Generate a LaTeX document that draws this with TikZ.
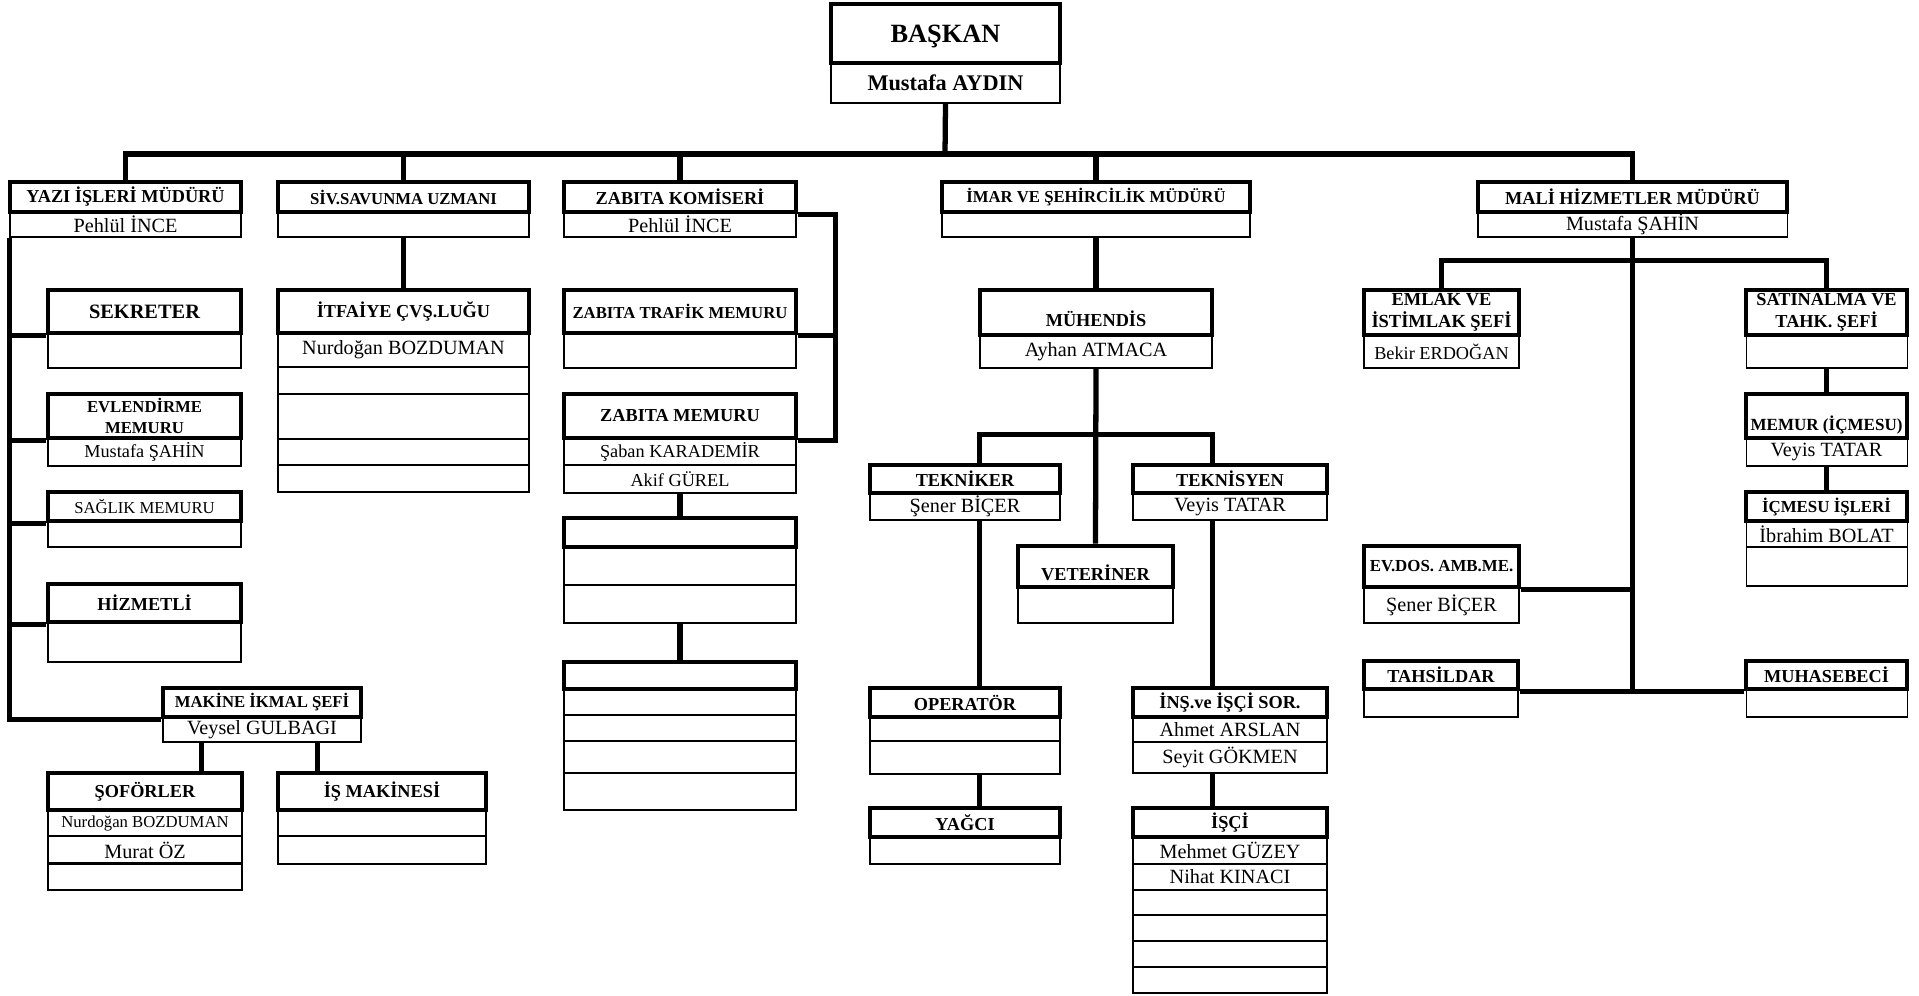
\documentclass[tikz,border=0pt]{standalone}
\usepackage{fontspec}
\setmainfont{Liberation Serif}

\tikzset{
  head/.style={draw, line width=2.8pt, inner sep=0pt, align=center,
    font=\bfseries\fontsize{10.4}{12.5}\selectfont},
  headsmall/.style={head, font=\bfseries\fontsize{9.5}{12}\selectfont},
  row/.style={draw, line width=0.6pt, inner sep=0pt,
    font=\fontsize{11.5}{13}\selectfont},
  rowsmall/.style={row, font=\fontsize{10.4}{12}\selectfont},
  link/.style={line width=3pt},
}
% style, name, x1, y1, x2, y2, text
\newcommand{\orgcell}[7]{%
  \node[#1, minimum width={(#5-#3)*0.02cm}, minimum height={(#6-#4)*0.02cm}]
    (#2) at ({(#3+#5)/2},{(#4+#6)/2}) {#7};}

\begin{document}
\begin{tikzpicture}[x=0.02cm, y=-0.02cm]
  \useasboundingbox (0,0) rectangle (1919,995);

  % baskan
  \orgcell{head, font=\bfseries\fontsize{15}{18}\selectfont, text depth=0pt}{baskan}{831}{4}{1060}{63}{BAŞKAN}
  \orgcell{row, font=\bfseries\fontsize{12.7}{15}\selectfont}{baskanad}{831}{63}{1060}{103}{Mustafa AYDIN}

  % mudurler
  \orgcell{head}{yazi}{10}{182}{241}{212}{YAZI İŞLERİ MÜDÜRÜ}
  \orgcell{row}{yaziad}{10}{212}{241}{237}{Pehlül İNCE}
  \orgcell{headsmall}{siv}{278}{182}{529}{212}{SİV.SAVUNMA UZMANI}
  \orgcell{row}{sivad}{278}{212}{529}{237}{}
  \orgcell{head}{zkom}{564}{182}{796}{212}{ZABITA KOMİSERİ}
  \orgcell{row}{zkomad}{564}{212}{796}{237}{Pehlül İNCE}
  \orgcell{headsmall}{imar}{942}{182}{1250}{212}{İMAR VE ŞEHİRCİLİK MÜDÜRÜ}
  \orgcell{row}{imarad}{942}{212}{1250}{237}{}
  \orgcell{head}{mali}{1478}{182}{1787}{212}{MALİ HİZMETLER MÜDÜRÜ}
  \orgcell{row}{maliad}{1478}{212}{1787}{237}{Mustafa ŞAHİN}

  % yazi isleri
  \orgcell{head, font=\bfseries\fontsize{11.6}{13}\selectfont}{sekreter}{48}{290}{241}{333}{SEKRETER}
  \orgcell{row}{sekreterad}{48}{333}{241}{368}{}
  \orgcell{headsmall}{evlendirme}{48}{394}{241}{438}{EVLENDİRME\\MEMURU}
  \orgcell{rowsmall}{evlendirmead}{48}{438}{241}{466}{Mustafa ŞAHİN}
  \orgcell{headsmall, font=\fontsize{9.5}{11}\selectfont}{saglik}{48}{492}{241}{521}{SAĞLIK MEMURU}
  \orgcell{row}{saglikad}{48}{521}{241}{547}{}
  \orgcell{head}{hizmetli}{48}{584}{241}{622}{HİZMETLİ}
  \orgcell{row}{hizmetliad}{48}{622}{241}{662}{}
  \orgcell{headsmall}{makine}{163}{688}{361}{717}{MAKİNE İKMAL ŞEFİ}
  \orgcell{row}{makinead}{163}{717}{361}{742}{Veysel GULBAGI}
  \orgcell{head}{sofor}{48}{773}{242}{810}{ŞOFÖRLER}
  \orgcell{row, font=\fontsize{9.5}{11}\selectfont}{sofor1}{48}{810}{242}{836}{Nurdoğan BOZDUMAN}
  \orgcell{row}{sofor2}{48}{836}{242}{864}{Murat ÖZ}
  \orgcell{row}{sofor3}{48}{864}{242}{890}{}
  \draw[line width=1.6pt] (sofor3.north west) -- (sofor3.north east);
  \orgcell{head}{ismak}{278}{773}{486}{810}{İŞ MAKİNESİ}
  \orgcell{row}{ismak1}{278}{810}{486}{836}{}
  \orgcell{row}{ismak2}{278}{836}{486}{864}{}

  % sivil savunma
  \orgcell{head}{itfaiye}{278}{290}{529}{333}{İTFAİYE ÇVŞ.LUĞU}
  \orgcell{row}{itf1}{278}{333}{529}{367}{Nurdoğan BOZDUMAN}
  \orgcell{row}{itf2}{278}{367}{529}{394}{}
  \orgcell{row}{itf3}{278}{394}{529}{439}{}
  \orgcell{row}{itf4}{278}{439}{529}{465}{}
  \orgcell{row}{itf5}{278}{465}{529}{492}{}

  % zabita
  \orgcell{headsmall}{ztrafik}{564}{290}{796}{333}{ZABITA TRAFİK MEMURU}
  \orgcell{row}{ztrafikad}{564}{333}{796}{368}{}
  \orgcell{head}{zmemur}{564}{394}{796}{438}{ZABITA MEMURU}
  \orgcell{rowsmall}{zmemur1}{564}{438}{796}{465}{Şaban KARADEMİR}
  \orgcell{rowsmall}{zmemur2}{564}{465}{796}{493}{Akif GÜREL}
  \orgcell{head}{zbos1}{564}{518}{796}{547}{}
  \orgcell{row}{zbos1a}{564}{547}{796}{585}{}
  \orgcell{row}{zbos1b}{564}{585}{796}{623}{}
  \orgcell{head}{zbos2}{564}{662}{796}{689}{}
  \orgcell{row}{zbos2a}{564}{689}{796}{715}{}
  \orgcell{row}{zbos2b}{564}{715}{796}{741}{}
  \orgcell{row}{zbos2c}{564}{741}{796}{773}{}
  \orgcell{row}{zbos2d}{564}{773}{796}{810}{}

  % imar
  \orgcell{head, text height=16pt}{muhendis}{980}{290}{1212}{335}{MÜHENDİS}
  \orgcell{row}{muhendisad}{980}{335}{1212}{368}{Ayhan ATMACA}
  \orgcell{head}{tekniker}{870}{465}{1060}{493}{TEKNİKER}
  \orgcell{row}{teknikerad}{870}{493}{1060}{520}{Şener BİÇER}
  \orgcell{head}{teknisyen}{1133}{465}{1327}{493}{TEKNİSYEN}
  \orgcell{row}{teknisyenad}{1133}{493}{1327}{520}{Veyis TATAR}
  \orgcell{head, text height=16pt}{veteriner}{1018}{546}{1173}{587}{VETERİNER}
  \orgcell{row}{veterinerad}{1018}{587}{1173}{623}{}
  \orgcell{head}{operator}{870}{688}{1060}{717}{OPERATÖR}
  \orgcell{row}{operator1}{870}{717}{1060}{741}{}
  \orgcell{row}{operator2}{870}{741}{1060}{774}{}
  \orgcell{head}{yagci}{870}{808}{1060}{837}{YAĞCI}
  \orgcell{row}{yagciad}{870}{837}{1060}{864}{}
  \orgcell{head}{insaat}{1133}{688}{1327}{717}{İNŞ.ve İŞÇİ SOR.}
  \orgcell{row}{ins1}{1133}{717}{1327}{742}{Ahmet ARSLAN}
  \orgcell{row}{ins2}{1133}{742}{1327}{773}{Seyit GÖKMEN}
  \orgcell{head}{isci}{1133}{808}{1327}{837}{İŞÇİ}
  \orgcell{row}{isci1}{1133}{837}{1327}{864}{Mehmet GÜZEY}
  \orgcell{row}{isci2}{1133}{864}{1327}{890}{Nihat KINACI}
  \orgcell{row}{isci3}{1133}{890}{1327}{915}{}
  \orgcell{row}{isci4}{1133}{915}{1327}{941}{}
  \orgcell{row}{isci5}{1133}{941}{1327}{967}{}
  \orgcell{row}{isci6}{1133}{967}{1327}{993}{}

  % mali hizmetler
  \orgcell{head, font=\bfseries\fontsize{10.5}{12.5}\selectfont}{emlak}{1364}{290}{1519}{335}{EMLAK VE\\İSTİMLAK ŞEFİ}
  \orgcell{rowsmall}{emlakad}{1364}{335}{1519}{368}{Bekir ERDOĞAN}
  \orgcell{head}{satinalma}{1746}{290}{1907}{335}{SATINALMA VE\\TAHK. ŞEFİ}
  \orgcell{row}{satinalmaad}{1746}{335}{1907}{368}{}
  \orgcell{head, font=\bfseries\fontsize{9.7}{12}\selectfont, text height=18pt}{memur}{1746}{394}{1907}{438}{MEMUR (İÇMESU)}
  \orgcell{row}{memurad}{1746}{438}{1907}{466}{Veyis TATAR}
  \orgcell{head, font=\bfseries\fontsize{9.6}{12}\selectfont}{icmesu}{1746}{492}{1907}{521}{İÇMESU İŞLERİ}
  \orgcell{row}{icmesu1}{1746}{521}{1907}{547}{İbrahim BOLAT}
  \orgcell{row}{icmesu2}{1746}{547}{1907}{586}{}
  \orgcell{head, font=\bfseries\fontsize{9.6}{12}\selectfont}{evdos}{1364}{546}{1519}{587}{EV.DOS. AMB.ME.}
  \orgcell{row}{evdosad}{1364}{587}{1519}{623}{Şener BİÇER}
  \orgcell{head}{tahsildar}{1364}{661}{1518}{689}{TAHSİLDAR}
  \orgcell{row}{tahsildarad}{1364}{689}{1518}{717}{}
  \orgcell{head}{muhasebeci}{1746}{661}{1907}{689}{MUHASEBECİ}
  \orgcell{row}{muhasebeciad}{1746}{689}{1907}{717}{}

  % baglantilar
  \coordinate (bus) at (945,154);
  \draw[link] (baskanad.south) -- (bus);
  \draw[link] (yazi.north) |- (bus) -| (mali.north);
  \draw[link] (siv.north) -- (siv.north |- bus);
  \draw[link] (zkom.north) -- (zkom.north |- bus);
  \draw[link] (imar.north) -- (imar.north |- bus);

  \draw[link] (yaziad.south west) |- (makine.south west);
  \draw[link] (sekreter.south west) -- (sekreter.south west -| yaziad.south west);
  \draw[link] (evlendirme.south west) -- (evlendirme.south west -| yaziad.south west);
  \draw[link] (saglik.south west) -- (saglik.south west -| yaziad.south west);
  \draw[link] (hizmetli.south west) -- (hizmetli.south west -| yaziad.south west);
  \draw[link] (makinead.south west) ++(39,0) -- ++(0,31);
  \draw[link] (makinead.south west) ++(155,0) -- ++(0,31);

  \draw[link] (sivad.south) -- (itfaiye.north);

  \draw[link] (zkom.south east) -- ++(37,0) |- (zmemur.south east);
  \draw[link] (ztrafik.south east) -- ++(37,0);
  \draw[link] (zmemur2.south) -- (zbos1.north);
  \draw[link] (zbos1b.south) -- (zbos2.north);

  \draw[link] (imarad.south) -- (muhendis.north);
  \draw[link] (muhendisad.south) -- (veteriner.north);
  \draw[link] (muhendisad.south west |- tekniker.north) -- ++(0,-28)
    -| (muhendisad.south east |- teknisyen.north);
  \draw[link] (teknikerad.south -| muhendisad.south west) -- (operator.north -| muhendisad.south west);
  \draw[link] (operator2.south -| muhendisad.south west) -- (yagci.north -| muhendisad.south west);
  \draw[link] (teknisyenad.south -| muhendisad.south east) -- (insaat.north -| muhendisad.south east);
  \draw[link] (ins2.south -| muhendisad.south east) -- (isci.north -| muhendisad.south east);

  \draw[link] (maliad.south) -- (maliad.south |- tahsildar.south east);
  \draw[link] (tahsildar.south east) -- (muhasebeci.south west);
  \draw[link] (evdos.south east) -- (evdos.south east -| maliad.south);
  \draw[link] (emlak.north) -- ++(0,-27) -| (satinalma.north);
  \draw[link] (satinalmaad.south) -- (memur.north);
  \draw[link] (memurad.south) -- (icmesu.north);
\end{tikzpicture}
\end{document}
